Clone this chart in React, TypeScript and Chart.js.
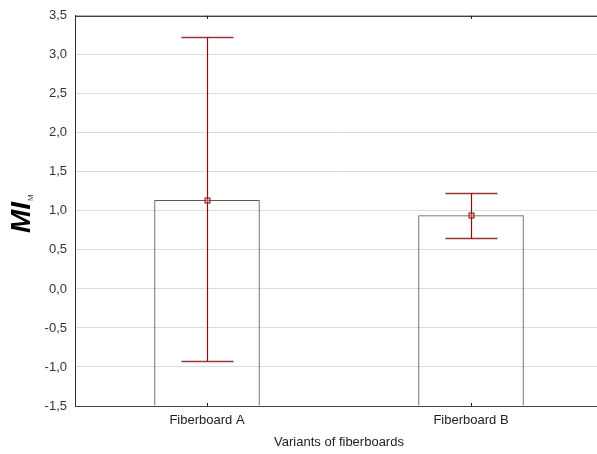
import React, { useEffect, useRef } from "react";
import { Chart, registerables } from "chart.js";

Chart.register(...registerables);

const categories = ["Fiberboard A", "Fiberboard B"];
const means = [1.14, 0.945];
const errLow = [-0.92, 0.656];
const errHigh = [3.228, 1.225];
const yMin = -1.5;
const yMax = 3.5;
const yStep = 0.5;
const xTitle = "Variants of fiberboards";
const yTitleMain = "MI";
const yTitleSub = "M";

const FONT = "Arial, 'Liberation Sans', sans-serif";
const ERR_COLOR = "#8b0a0a";
const CAP_COLOR = "#9a3838";
const BAR_BORDER = "#6e5252";

const overlayPlugin = {
  id: "overlay",
  afterDatasetsDraw(chart: any) {
    const { ctx, chartArea, scales } = chart;
    const x = scales.x;
    const y = scales.y;
    ctx.save();
    // top border
    ctx.strokeStyle = "#111";
    ctx.lineWidth = 1;
    ctx.beginPath();
    ctx.moveTo(chartArea.left, chartArea.top + 0.5);
    ctx.lineTo(chartArea.right, chartArea.top + 0.5);
    ctx.stroke();
    // inward category ticks
    ctx.beginPath();
    categories.forEach((_, i) => {
      const px = Math.round(x.getPixelForValue(i)) + 0.5;
      ctx.moveTo(px, chartArea.top);
      ctx.lineTo(px, chartArea.top + 3);
      ctx.moveTo(px, chartArea.bottom);
      ctx.lineTo(px, chartArea.bottom - 3);
    });
    ctx.stroke();
    // error bars
    const capHalf = 26;
    categories.forEach((_, i) => {
      const px = Math.round(x.getPixelForValue(i)) + 0.5;
      const yl = Math.round(y.getPixelForValue(errLow[i])) + 0.5;
      const yh = Math.round(y.getPixelForValue(errHigh[i])) + 0.5;
      ctx.strokeStyle = CAP_COLOR;
      ctx.lineWidth = 1.4;
      ctx.beginPath();
      ctx.moveTo(px - capHalf, yl);
      ctx.lineTo(px + capHalf, yl);
      ctx.moveTo(px - capHalf, yh);
      ctx.lineTo(px + capHalf, yh);
      ctx.stroke();
      ctx.strokeStyle = ERR_COLOR;
      ctx.lineWidth = 1.2;
      ctx.beginPath();
      ctx.moveTo(px, yl);
      ctx.lineTo(px, yh);
      ctx.stroke();
    });
    // markers
    ctx.lineWidth = 1;
    ctx.strokeStyle = ERR_COLOR;
    categories.forEach((_, i) => {
      const px = Math.round(x.getPixelForValue(i)) + 0.5;
      const py = Math.round(y.getPixelForValue(means[i])) + 0.5;
      ctx.fillStyle = "rgba(220,150,150,0.45)";
      ctx.fillRect(px - 2.5, py - 2.5, 5, 5);
      ctx.strokeRect(px - 2.5, py - 2.5, 5, 5);
    });
    // y title
    ctx.fillStyle = "#000";
    ctx.translate(30, 233);
    ctx.rotate(-Math.PI / 2);
    ctx.textBaseline = "alphabetic";
    ctx.textAlign = "left";
    ctx.font = `italic bold 28px ${FONT}`;
    ctx.fillText(yTitleMain, 0, 0);
    const w = ctx.measureText(yTitleMain).width;
    ctx.font = `8px ${FONT}`;
    ctx.fillStyle = "#333";
    ctx.fillText(yTitleSub, w + 1, 3);
    ctx.restore();
  },
};

export default function App() {
  const ref = useRef<HTMLCanvasElement>(null);
  useEffect(() => {
    if (!ref.current) return;
    const chart = new Chart(ref.current, {
      type: "bar",
      data: {
        labels: categories,
        datasets: [
          {
            label: "Mean",
            data: means,
            base: yMin,
            backgroundColor: "rgba(255,255,255,0)",
            borderColor: BAR_BORDER,
            borderWidth: 1,
            barPercentage: 0.4,
            categoryPercentage: 1,
          } as any,
        ],
      },
      options: {
        animation: false,
        responsive: false,
        devicePixelRatio: 1,
        layout: { padding: { top: 14, left: 0, right: 0, bottom: 0 } },
        plugins: { legend: { display: false }, tooltip: { enabled: false } },
        scales: {
          x: {
            grid: { display: false, drawTicks: false },
            border: { display: true, color: "#444", width: 1 },
            ticks: {
              font: { family: FONT, size: 13 },
              color: "#222",
              padding: 7,
              maxRotation: 0,
            },
            title: {
              display: true,
              text: xTitle,
              font: { family: FONT, size: 13 },
              color: "#222",
              padding: { top: 1, bottom: 4 },
            },
            afterFit(scale: any) {
              scale.height = 48;
            },
          },
          y: {
            min: yMin,
            max: yMax,
            grid: { color: "#dcdcdc", drawTicks: false },
            border: { display: true, color: "#333", width: 1 },
            ticks: {
              stepSize: yStep,
              font: { family: FONT, size: 13 },
              color: "#333",
              padding: 8,
              callback: (v: any) => Number(v).toFixed(1).replace(".", ","),
            },
            afterFit(scale: any) {
              scale.width = 75;
            },
          },
        },
      },
      plugins: [overlayPlugin],
    });
    return () => chart.destroy();
  }, []);
  return (
    <div
      style={{
        position: "fixed",
        left: 0,
        top: 0,
        width: 597,
        height: 454,
        overflow: "hidden",
        background: "#fff",
      }}
    >
      <canvas ref={ref} width={603} height={454} style={{ display: "block" }} />
    </div>
  );
}
